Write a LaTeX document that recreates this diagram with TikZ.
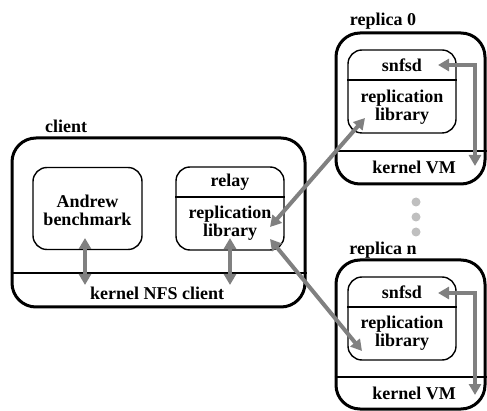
\documentclass[tikz,border=0pt]{standalone}
\usepackage{fontspec}
\setmainfont{Liberation Serif}
\usetikzlibrary{arrows.meta}
\begin{document}
\begin{tikzpicture}[x=1pt,y=-1pt,
  outerbox/.style={draw=black,line width=3pt,rounded corners=24pt,inner sep=0pt},
  innerbox/.style={draw=black,line width=1.4pt,rounded corners=14pt,inner sep=0pt},
  divider/.style={draw=black,line width=1.3pt},
  lbl/.style={font=\fontsize{18}{18}\selectfont\bfseries,align=center,inner sep=0pt},
  flow/.style={draw=black!50,line width=4pt,{Triangle[length=11pt,width=12pt]}-{Triangle[length=11pt,width=12pt]},line join=miter,shorten <=0pt,shorten >=0pt},
  dot/.style={circle,fill=black!25,minimum size=9pt,inner sep=0pt}]
\useasboundingbox (0,0) rectangle (487,411);
% client
\node[outerbox,minimum width=293pt,minimum height=169pt] (client) at (158.5,222.5) {};
\draw[divider] (client.west |- 0,273) -- (client.east |- 0,273);
\node[lbl] (clientlbl) at (66,126) {client};
\node[lbl] (nfs) at (157,293) {kernel NFS client};
\node[innerbox,minimum width=109pt,minimum height=82pt] (andrew) at (87.5,208.5) {};
\node[lbl] (andrewtxt) at (87.5,210) {Andrew\\benchmark};
\node[innerbox,minimum width=108pt,minimum height=83pt] (relay) at (230,208.5) {};
\draw[divider] (relay.west |- 0,197) -- (relay.east |- 0,197);
\node[lbl] (relaytxt) at (230,182) {relay};
\node[lbl] (relaylib) at (230,223) {replication\\library};
% replica 0
\node[outerbox,minimum width=149pt,minimum height=151pt] (rep0) at (410.5,108.5) {};
\draw[divider] (rep0.west |- 0,151) -- (rep0.east |- 0,151);
\node[lbl] (rep0lbl) at (383,21) {replica 0};
\node[lbl] (rep0vm) at (414,167) {kernel VM};
\node[innerbox,minimum width=108pt,minimum height=83pt] (rep0in) at (402,91.5) {};
\draw[divider] (rep0in.west |- 0,80) -- (rep0in.east |- 0,80);
\node[lbl] (rep0snfsd) at (402,65) {snfsd};
\node[lbl] (rep0lib) at (402,107) {replication\\library};
% dots
\node[dot] (d1) at (416,202) {};
\node[dot] (d2) at (416,217) {};
\node[dot] (d3) at (416,232) {};
% replica n
\node[outerbox,minimum width=149pt,minimum height=149pt] (repn) at (410.5,334.5) {};
\draw[divider] (repn.west |- 0,377) -- (repn.east |- 0,377);
\node[lbl] (repnlbl) at (383,250) {replica n};
\node[lbl] (repnvm) at (414,393) {kernel VM};
\node[innerbox,minimum width=108pt,minimum height=83pt] (repnin) at (402,318.5) {};
\draw[divider] (repnin.west |- 0,307) -- (repnin.east |- 0,307);
\node[lbl] (repnsnfsd) at (402,292) {snfsd};
\node[lbl] (repnlib) at (402,333) {replication\\library};
% arrow endpoints
\coordinate (a1t) at (85,238);
\coordinate (a1b) at (85,285);
\coordinate (a2t) at (230,238);
\coordinate (a2b) at (230,285);
\coordinate (relay0) at (270,227);
\coordinate (relayn) at (270,239);
\coordinate (rep0tip) at (365,118);
\coordinate (repntip) at (362,351);
\coordinate (s0) at (438,65);
\coordinate (k0) at (475,166);
\coordinate (sn) at (438,293);
\coordinate (kn) at (475,395);
% arrows
\draw[flow] (a1t) -- (a1b);
\draw[flow] (a2t) -- (a2b);
\draw[flow] (relay0) -- (rep0tip);
\draw[flow] (relayn) -- (repntip);
\draw[flow] (s0) -| (k0);
\draw[flow] (sn) -| (kn);
\end{tikzpicture}
\end{document}
